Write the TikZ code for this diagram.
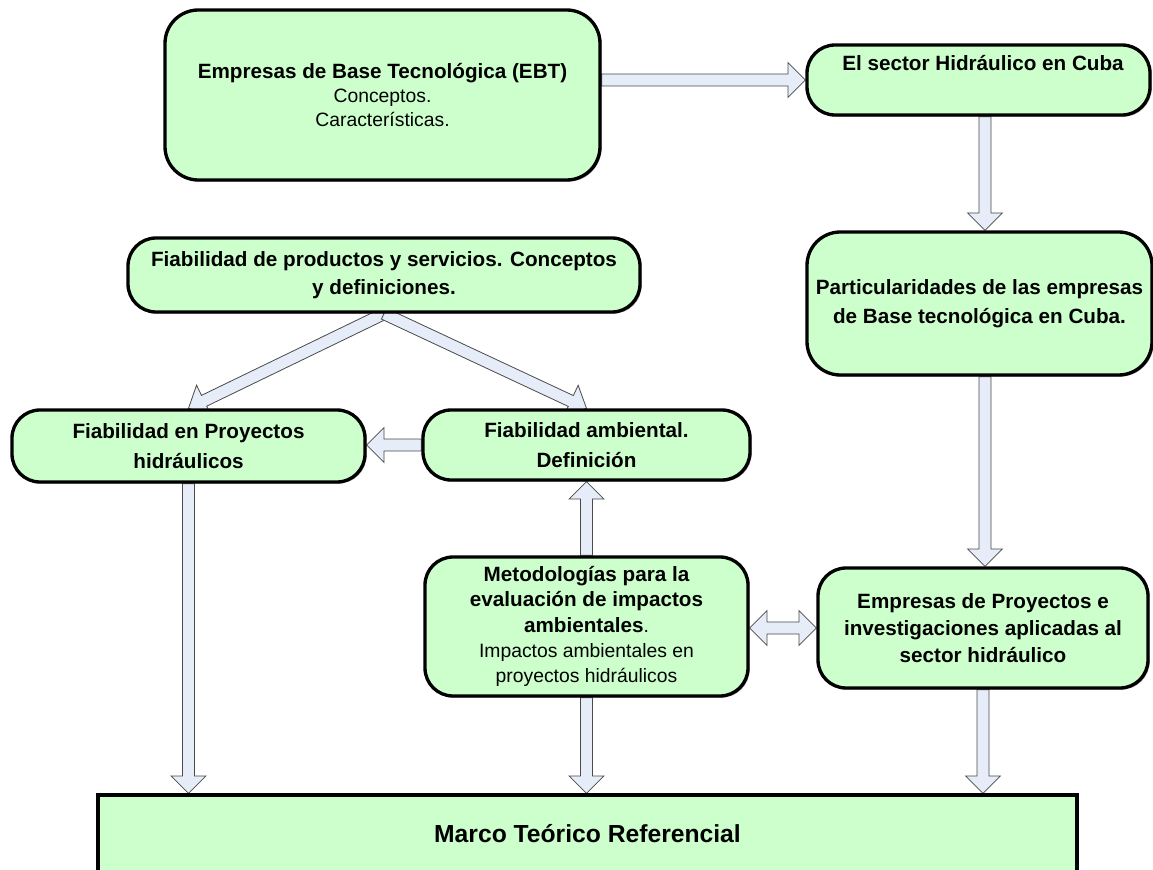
\documentclass[tikz,border=0pt]{standalone}
\usepackage{fontspec}
\setmainfont{Liberation Sans}
\usetikzlibrary{calc,shadows,backgrounds}
\definecolor{boxgreen}{HTML}{CCFFCC}
\definecolor{arrowfill}{HTML}{E6ECF8}
\definecolor{arrowline}{HTML}{4A4A4A}
\def\baW{4.5pt}\def\baHL{13pt}\def\baHW{13pt}
\newcommand{\blockarrow}[2]{%
 \path[barrow] let \p1=(#1), \p2=(#2),
   \n1={veclen(\x2-\x1,\y2-\y1)}, \n2={atan2(\y2-\y1,\x2-\x1)} in
   ($(\p1)+(\n2+90:\baW)$) -- ($(\p1)+(\n2:\n1-\baHL)+(\n2+90:\baW)$) --
   ($(\p1)+(\n2:\n1-\baHL)+(\n2+90:\baHW)$) -- (\p2) --
   ($(\p1)+(\n2:\n1-\baHL)+(\n2-90:\baHW)$) -- ($(\p1)+(\n2:\n1-\baHL)+(\n2-90:\baW)$) --
   ($(\p1)+(\n2-90:\baW)$) -- cycle;}
\newcommand{\dblockarrow}[2]{%
 \path[barrow] let \p1=(#1), \p2=(#2),
   \n1={veclen(\x2-\x1,\y2-\y1)}, \n2={atan2(\y2-\y1,\x2-\x1)} in
   (\p1) -- ($(\p1)+(\n2:\baHL)+(\n2+90:\baHW)$) -- ($(\p1)+(\n2:\baHL)+(\n2+90:\baW)$) --
   ($(\p1)+(\n2:\n1-\baHL)+(\n2+90:\baW)$) -- ($(\p1)+(\n2:\n1-\baHL)+(\n2+90:\baHW)$) --
   (\p2) --
   ($(\p1)+(\n2:\n1-\baHL)+(\n2-90:\baHW)$) -- ($(\p1)+(\n2:\n1-\baHL)+(\n2-90:\baW)$) --
   ($(\p1)+(\n2:\baHL)+(\n2-90:\baW)$) -- ($(\p1)+(\n2:\baHL)+(\n2-90:\baHW)$) -- cycle;}
\begin{document}
\begin{tikzpicture}[x=0.75pt,y=-0.75pt,
  box/.style={draw=black, line width=2.5pt, fill=boxgreen, rounded corners=21pt,
    inner sep=0pt, align=center,
    drop shadow={shadow xshift=1.2pt, shadow yshift=-1.2pt, fill=black, opacity=0.35}},
  bigbox/.style={box, rounded corners=25pt},
  plainbox/.style={draw=black, line width=2.5pt, fill=boxgreen, inner sep=0pt, align=center},
  bfont/.style={font=\fontsize{15.5}{#1}\selectfont\bfseries},
  barrow/.style={draw=arrowline, fill=arrowfill, line width=0.6pt, line join=miter}]
\clip (0,0) rectangle (1153,870);

% boxes
\node[bigbox, minimum width=326.25pt, minimum height=127.5pt,
      font=\fontsize{14.5}{18}\selectfont] (ebt) at (382.5,95)
  {{\fontsize{15.5}{18}\selectfont\bfseries Empresas de Base Tecnológica (EBT)}\\Conceptos.\\Características.};
\node[box, minimum width=257.25pt, minimum height=52.5pt] (sector) at (978.5,80) {};
\node[bfont=20, anchor=center] (sectortext) at (983,63) {El sector Hidráulico en Cuba};
\node[bigbox, minimum width=258.75pt, minimum height=107.25pt, bfont=22] (part) at (979.5,303.5)
  {Particularidades de las empresas\\de Base tecnológica en Cuba.};
\node[box, minimum width=384pt, minimum height=55.5pt, bfont=21] (prod) at (384,275)
  {Fiabilidad de productos y servicios. Conceptos\\y definiciones.};
\node[box, minimum width=264.75pt, minimum height=54pt, bfont=22.5] (fproy) at (188.5,446)
  {Fiabilidad en Proyectos\\hidráulicos};
\node[box, minimum width=245.25pt, minimum height=52.5pt, bfont=22.5] (famb) at (586.5,445)
  {Fiabilidad ambiental.\\Definición};
\node[box, minimum width=242.25pt, minimum height=104.25pt,
      font=\fontsize{14.5}{19}\selectfont] (metod) at (586.5,626.5)
  {{\fontsize{15.5}{19}\selectfont\bfseries Metodologías para la}\\
   {\fontsize{15.5}{19}\selectfont\bfseries evaluación de impactos}\\
   {\fontsize{15.5}{19}\selectfont\bfseries ambientales}.\\
   Impactos ambientales en\\proyectos hidráulicos};
\node[box, minimum width=247.5pt, minimum height=90pt, bfont=20] (eproy) at (983,628)
  {Empresas de Proyectos e\\investigaciones aplicadas al\\sector hidráulico};
\node[plainbox, minimum width=734.25pt, minimum height=58.5pt,
      font=\fontsize{18.5}{22}\selectfont\bfseries] (marco) at (587.5,834)
  {Marco Teórico Referencial};

\coordinate (xr) at (985,0);

% block arrows
\begin{pgfonlayer}{background}
\fill[white] (0,0) rectangle (1153,870);
\blockarrow{ebt.east |- sector.west}{sector.west}
\blockarrow{sector.south -| xr}{part.north -| xr}
\blockarrow{part.south -| xr}{eproy.north -| xr}
\blockarrow{prod.south}{fproy.north}
\blockarrow{prod.south}{famb.north}
\blockarrow{famb.west}{famb.west -| fproy.east}
\blockarrow{metod.north}{famb.south}
\dblockarrow{metod.east |- eproy.west}{eproy.west}
\blockarrow{fproy.south}{marco.north -| fproy.south}
\blockarrow{metod.south}{marco.north -| metod.south}
\blockarrow{eproy.south}{marco.north -| eproy.south}
\end{pgfonlayer}
\end{tikzpicture}
\end{document}
